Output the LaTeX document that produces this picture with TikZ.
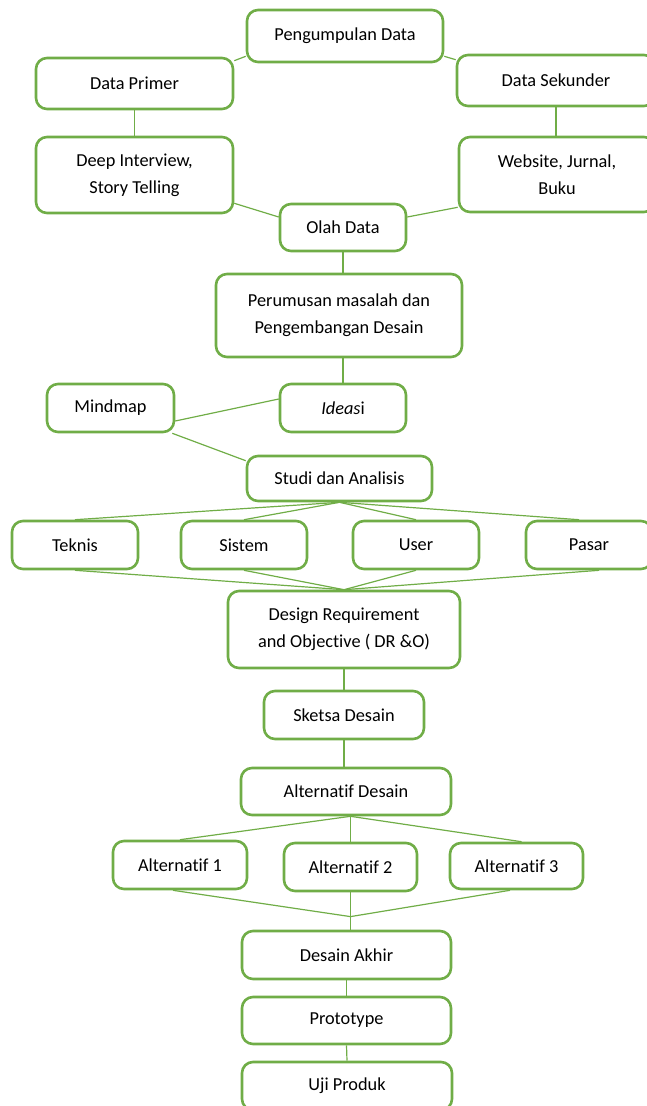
\documentclass[tikz,border=0pt]{standalone}
\usepackage{fontspec}
\setmainfont[Ligatures=NoCommon]{Carlito}
\usetikzlibrary{calc}
\definecolor{grn}{HTML}{70AD47}
\begin{document}
\begin{tikzpicture}[x=1pt,y=-1pt,
  box/.style={draw=grn, line width=2.6pt, rounded corners=11pt, fill=white, align=center, inner sep=1pt, text=black, font={\fontsize{18.3}{27}\selectfont}},
  link/.style={draw=grn, line width=1.2pt}]
\useasboundingbox (0,0) rectangle (647,1106);
% nodes
\node[box, minimum width=196pt, minimum height=52pt] (pd) at (345,36) {Pengumpulan Data};
\node[box, minimum width=197pt, minimum height=51pt] (dp) at (134.5,83.5) {Data Primer};
\node[box, minimum width=198pt, minimum height=51pt] (ds) at (556,80.5) {Data Sekunder};
\node[box, minimum width=197pt, minimum height=76pt] (di) at (134.5,175) {Deep Interview,\\Story Telling};
\node[box, minimum width=196pt, minimum height=75pt] (ws) at (557,174.5) {Website, Jurnal,\\Buku};
\node[box, minimum width=126pt, minimum height=47pt] (od) at (343,227.5) {Olah Data};
\node[box, minimum width=246pt, minimum height=83pt] (pm) at (339,315.5) {Perumusan masalah dan\\Pengembangan Desain};
\node[box, minimum width=127pt, minimum height=48pt] (mm) at (110.5,408) {Mindmap};
\node[box, minimum width=126pt, minimum height=48pt] (id) at (343,408) {\textit{Ideas}i};
\node[box, minimum width=185pt, minimum height=45pt] (sa) at (339.5,478.5) {Studi dan Analisis};
\node[box, minimum width=126pt, minimum height=48pt] (tk) at (75,545) {Teknis};
\node[box, minimum width=126pt, minimum height=48pt] (ss) at (244,545) {Sistem};
\node[box, minimum width=126pt, minimum height=48pt] (us) at (416,545) {User};
\node[box, minimum width=126pt, minimum height=48pt] (ps) at (589,545) {Pasar};
\node[box, minimum width=232pt, minimum height=77pt] (dr) at (344,629.5) {Design Requirement\\and Objective ( DR \&O)};
\node[box, minimum width=160pt, minimum height=48pt] (sk) at (344,715) {Sketsa Desain};
\node[box, minimum width=210pt, minimum height=47pt] (ad) at (346,791.5) {Alternatif Desain};
\node[box, minimum width=134pt, minimum height=48pt] (a1) at (180,865) {Alternatif 1};
\node[box, minimum width=133pt, minimum height=48pt] (a2) at (350.5,867) {Alternatif 2};
\node[box, minimum width=133pt, minimum height=46pt] (a3) at (516.5,866) {Alternatif 3};
\node[box, minimum width=209pt, minimum height=48pt] (da) at (346.5,955) {Desain Akhir};
\node[box, minimum width=209pt, minimum height=47pt] (pr) at (346.5,1020.5) {Prototype};
\node[box, minimum width=210pt, minimum height=48pt] (up) at (347,1086) {Uji Produk};
% connectors
\draw[link] ([yshift=7pt]pd.south west) -- ([yshift=-4pt]dp.north east);
\draw[link] ([yshift=7pt]pd.south east) -- ([yshift=-6pt]ds.north west);
\draw[link] (dp.south) -- (di.north);
\draw[link] (ds.south) -- (ds.south |- ws.north);
\draw[link] ([yshift=11pt]di.south east) -- ([yshift=10.5pt]od.west);
\draw[link] ([yshift=6pt]ws.south west) -- ([yshift=10.5pt]od.east);
\draw[link] (od.south) -- (od.south |- pm.north);
\draw[link] (id.north |- pm.south) -- (id.north);
\draw[link] ([yshift=9pt]id.west) -- ([yshift=-13pt]mm.east);
\draw[link] ([xshift=-3pt]mm.south east) -- ([yshift=-6pt]sa.north west);
\draw[link] (sa.south) -- (tk.north);
\draw[link] (sa.south) -- (ss.north);
\draw[link] (sa.south) -- (us.north);
\draw[link] (sa.south) -- ([xshift=-10pt]ps.north);
\draw[link] (tk.south) -- (dr.north);
\draw[link] (ss.south) -- (dr.north);
\draw[link] (us.south) -- (dr.north);
\draw[link] ([xshift=10pt]ps.south) -- (dr.north);
\draw[link] (dr.south) -- (sk.north);
\draw[link] (sk.south) -- (sk.south |- ad.north);
\coordinate (adb) at (a2.north |- ad.south);
\draw[link] (adb) -- (a1.north);
\draw[link] (adb) -- (a2.north);
\draw[link] (adb) -- ([xshift=5pt]a3.north);
\coordinate (jn) at ($(a2.south)!0.65!(a2.south |- da.north)$);
\draw[link] ([xshift=-7pt]a1.south) -- (jn);
\draw[link] ([xshift=-6.5pt]a3.south) -- (jn);
\draw[link] (a2.south) -- (a2.south |- da.north);
\draw[link] (da.south) -- (pr.north);
\draw[link] (pr.south) -- (up.north);
\end{tikzpicture}
\end{document}
